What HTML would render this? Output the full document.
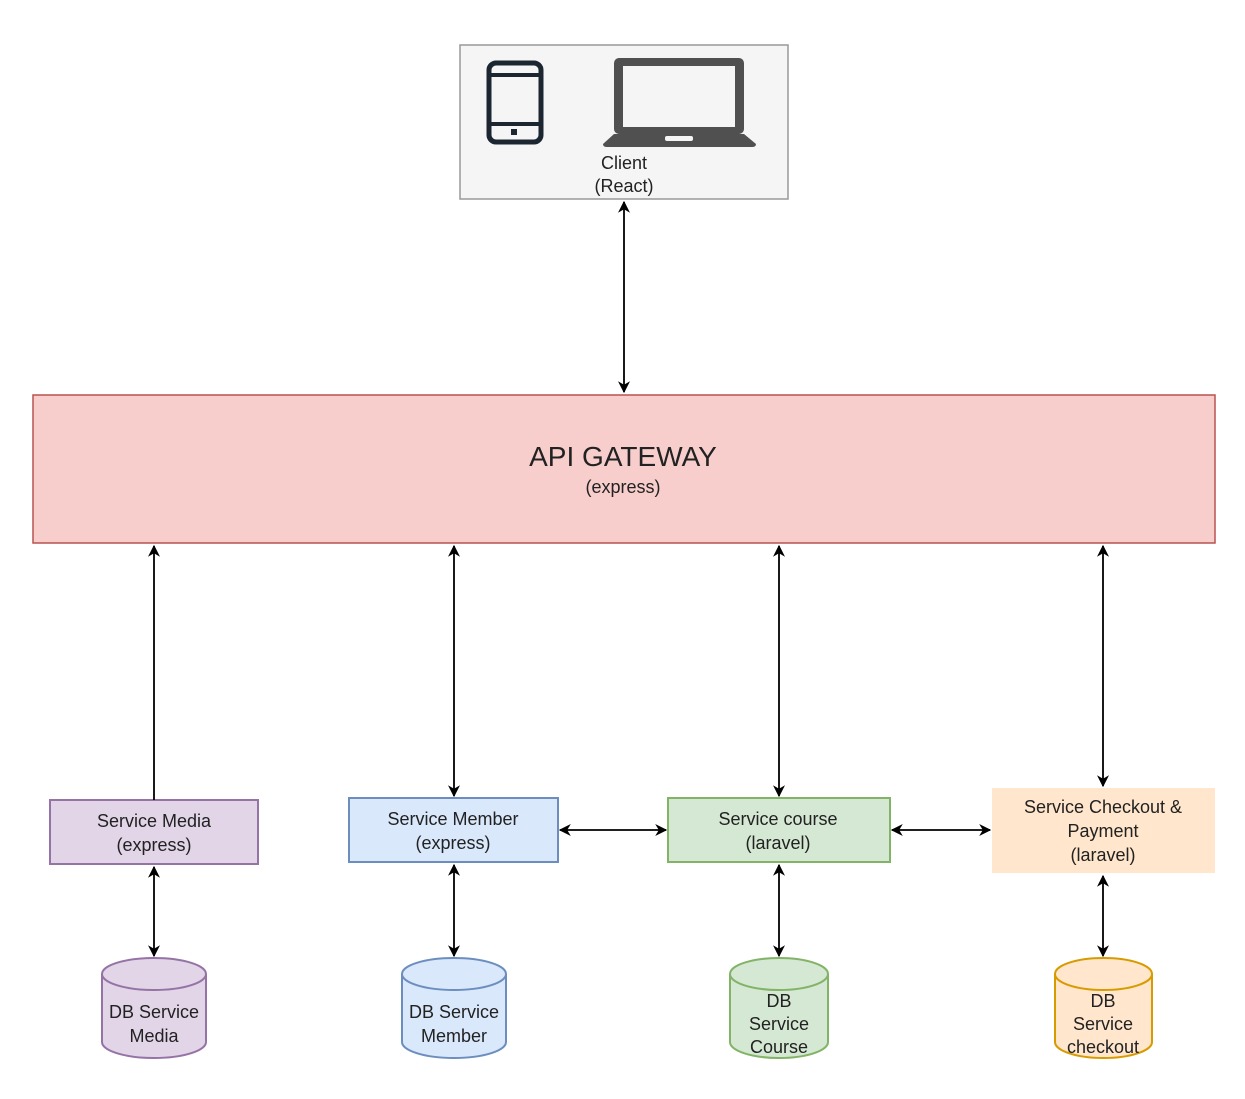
<!DOCTYPE html>
<html><head><meta charset="utf-8"><style>
html,body{margin:0;padding:0;background:#fff}
svg{display:block}
text{font-family:"Liberation Sans",Arial,sans-serif;fill:#222;text-anchor:middle}
</style></head><body>
<svg width="1245" height="1099" viewBox="0 0 1245 1099" xmlns="http://www.w3.org/2000/svg">
<defs>
<marker id="a" viewBox="0 0 10 10" refX="9" refY="5" markerWidth="12" markerHeight="12" orient="auto-start-reverse" markerUnits="userSpaceOnUse">
<path d="M0,0 L10,5 L0,10 L3,5 z" fill="#000"/></marker>
</defs>
<!-- client -->
<rect x="460" y="45" width="328" height="154" fill="#f5f5f5" stroke="#999" stroke-width="1.5"/>
<rect x="489" y="63" width="52" height="79" rx="7" fill="none" stroke="#1b2631" stroke-width="5"/>
<line x1="489" y1="75" x2="541" y2="75" stroke="#1b2631" stroke-width="4"/>
<line x1="489" y1="124" x2="541" y2="124" stroke="#1b2631" stroke-width="4"/>
<rect x="511" y="129" width="6" height="6" fill="#1b2631"/>
<rect x="614" y="58" width="130" height="76" rx="5" fill="#505050"/>
<rect x="623" y="66" width="112" height="61" fill="#f5f5f5"/>
<path d="M614,134 L744,134 L756,144 Q756,147 752,147 L607,147 Q603,147 603,144 Z" fill="#505050"/>
<rect x="665" y="136" width="28" height="5" rx="2" fill="#f5f5f5"/>
<text x="624" y="169" font-size="18">Client</text>
<text x="624" y="192" font-size="18">(React)</text>
<line x1="624" y1="202" x2="624" y2="392" stroke="#000" stroke-width="1.8" marker-start="url(#a)" marker-end="url(#a)"/>
<!-- gateway -->
<rect x="33" y="395" width="1182" height="148" fill="#f8cecc" stroke="#b85450" stroke-width="1.5"/>
<text x="623" y="466" font-size="28">API GATEWAY</text>
<text x="623" y="493" font-size="18">(express)</text>
<!-- services -->
<rect x="50" y="800" width="208" height="64" fill="#e1d5e7" stroke="#9673a6" stroke-width="2"/>
<text x="154" y="827" font-size="18">Service Media</text>
<text x="154" y="851" font-size="18">(express)</text>
<rect x="349" y="798" width="209" height="64" fill="#dae8fc" stroke="#6c8ebf" stroke-width="2"/>
<text x="453" y="825" font-size="18">Service Member</text>
<text x="453" y="849" font-size="18">(express)</text>
<rect x="668" y="798" width="222" height="64" fill="#d5e8d4" stroke="#82b366" stroke-width="2"/>
<text x="778" y="825" font-size="18">Service course</text>
<text x="778" y="849" font-size="18">(laravel)</text>
<rect x="992" y="788" width="223" height="85" fill="#ffe6cc"/>
<text x="1103" y="813" font-size="18">Service Checkout &amp;</text>
<text x="1103" y="837" font-size="18">Payment</text>
<text x="1103" y="861" font-size="18">(laravel)</text>
<!-- arrows -->
<g stroke="#000" stroke-width="1.8">
<line x1="154" y1="800" x2="154" y2="546" marker-end="url(#a)"/>
<line x1="454" y1="546" x2="454" y2="796" marker-start="url(#a)" marker-end="url(#a)"/>
<line x1="779" y1="546" x2="779" y2="796" marker-start="url(#a)" marker-end="url(#a)"/>
<line x1="1103" y1="546" x2="1103" y2="786" marker-start="url(#a)" marker-end="url(#a)"/>
<line x1="560" y1="830" x2="666" y2="830" marker-start="url(#a)" marker-end="url(#a)"/>
<line x1="892" y1="830" x2="990" y2="830" marker-start="url(#a)" marker-end="url(#a)"/>
<line x1="154" y1="867" x2="154" y2="956" marker-start="url(#a)" marker-end="url(#a)"/>
<line x1="454" y1="865" x2="454" y2="956" marker-start="url(#a)" marker-end="url(#a)"/>
<line x1="779" y1="865" x2="779" y2="956" marker-start="url(#a)" marker-end="url(#a)"/>
<line x1="1103" y1="876" x2="1103" y2="956" marker-start="url(#a)" marker-end="url(#a)"/>
</g>
<!-- cylinders -->
<g stroke-width="2">
<path d="M102,974 A52,16 0 0 1 206,974 L206,1042 A52,16 0 0 1 102,1042 Z" fill="#e1d5e7" stroke="#9673a6"/>
<path d="M102,974 A52,16 0 0 0 206,974" fill="none" stroke="#9673a6"/>
<path d="M402,974 A52,16 0 0 1 506,974 L506,1042 A52,16 0 0 1 402,1042 Z" fill="#dae8fc" stroke="#6c8ebf"/>
<path d="M402,974 A52,16 0 0 0 506,974" fill="none" stroke="#6c8ebf"/>
<path d="M730,974 A49,16 0 0 1 828,974 L828,1042 A49,16 0 0 1 730,1042 Z" fill="#d5e8d4" stroke="#82b366"/>
<path d="M730,974 A49,16 0 0 0 828,974" fill="none" stroke="#82b366"/>
<path d="M1055,974 A48.5,16 0 0 1 1152,974 L1152,1042 A48.5,16 0 0 1 1055,1042 Z" fill="#ffe6cc" stroke="#d79b00"/>
<path d="M1055,974 A48.5,16 0 0 0 1152,974" fill="none" stroke="#d79b00"/>
</g>
<text x="154" y="1018" font-size="18">DB Service</text>
<text x="154" y="1042" font-size="18">Media</text>
<text x="454" y="1018" font-size="18">DB Service</text>
<text x="454" y="1042" font-size="18">Member</text>
<text x="779" y="1007" font-size="18">DB</text>
<text x="779" y="1030" font-size="18">Service</text>
<text x="779" y="1053" font-size="18">Course</text>
<text x="1103" y="1007" font-size="18">DB</text>
<text x="1103" y="1030" font-size="18">Service</text>
<text x="1103" y="1053" font-size="18">checkout</text>
</svg>
</body></html>
